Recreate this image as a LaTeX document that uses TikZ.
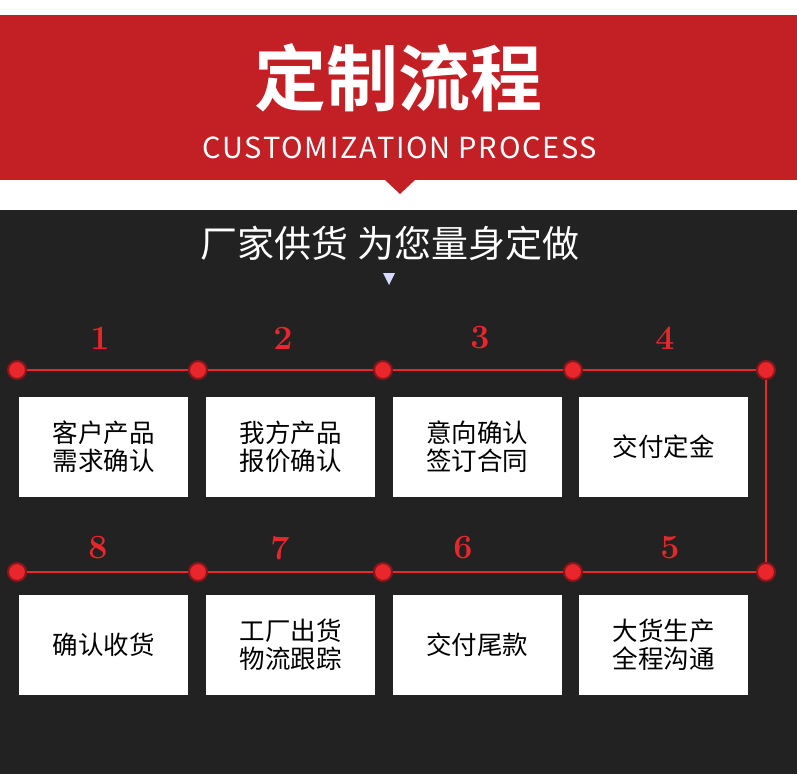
\documentclass[tikz,border=0pt]{standalone}
\usepackage{fontspec}
\newfontfamily\cjk{Noto Sans CJK SC}
\newfontfamily\cjkb{Noto Sans CJK SC Bold}
\newfontfamily\cjkw[LetterSpace=6]{Noto Sans CJK SC}
\definecolor{hred}{HTML}{C32026}
\definecolor{dark}{HTML}{222222}
\definecolor{dot}{HTML}{E8262B}
\begin{document}
\begin{tikzpicture}[x=1pt,y=-1pt,
  box/.style={fill=white,minimum width=169pt,minimum height=100pt,inner sep=0pt,font=\cjk\fontsize{25.5}{28}\selectfont,align=center,text=black},
  num/.style={text=dot,font=\bfseries\fontsize{34}{34}\selectfont},
  pt/.style={circle,fill=dot,draw=hred!70!black,line width=2pt,minimum size=18pt,inner sep=0pt},
  ln/.style={draw=dot,line width=2pt}]
\useasboundingbox (0,0) rectangle (797,774);
\fill[white] (0,0) rectangle (797,774);
\fill[hred] (0,15) rectangle (797,180);
\fill[hred] (384,179) -- (416,179) -- (400,194) -- cycle;
\fill[dark] (0,210) rectangle (797,774);
\node[text=white,font=\cjkb\fontsize{72}{72}\selectfont] (t) at (398,78) {定制流程};
\node[text=white,font=\cjkw\fontsize{29}{29}\selectfont] (st) at (400,148) {CUSTOMIZATION PROCESS};
\node[text=white,font=\cjk\fontsize{37}{37}\selectfont] (h) at (390,243) {厂家供货 为您量身定做};
\fill[white!85!blue] (383,273) -- (395,273) -- (389,285) -- cycle;
\foreach \n/\x in {a1/17,a2/198,a3/383,a4/573,a5/766}{\node[pt] (\n) at (\x,370) {};}
\foreach \n/\x in {b1/17,b2/198,b3/383,b4/573,b5/766}{\node[pt] (\n) at (\x,572) {};}
\draw[ln] (a1)--(a2); \draw[ln] (a2)--(a3); \draw[ln] (a3)--(a4); \draw[ln] (a4)--(a5);
\draw[ln] (a5)--(b5);
\draw[ln] (b1)--(b2); \draw[ln] (b2)--(b3); \draw[ln] (b3)--(b4); \draw[ln] (b4)--(b5);
\node[num] (n1) at (100,338) {1};
\node[num] (n2) at (283,338) {2};
\node[num] (n3) at (480,338) {3};
\node[num] (n4) at (665,338) {4};
\node[num] (n8) at (98,548) {8};
\node[num] (n7) at (280,548) {7};
\node[num] (n6) at (463,548) {6};
\node[num] (n5) at (670,548) {5};
\node[box] (s1) at (103.5,447) {客户产品\\需求确认};
\node[box] (s2) at (290.5,447) {我方产品\\报价确认};
\node[box] (s3) at (477,447) {意向确认\\签订合同};
\node[box] (s4) at (663.5,447) {交付定金};
\node[box] (s8) at (103.5,645) {确认收货};
\node[box] (s7) at (290.5,645) {工厂出货\\物流跟踪};
\node[box] (s6) at (477,645) {交付尾款};
\node[box] (s5) at (663.5,645) {大货生产\\全程沟通};
\end{tikzpicture}
\end{document}
